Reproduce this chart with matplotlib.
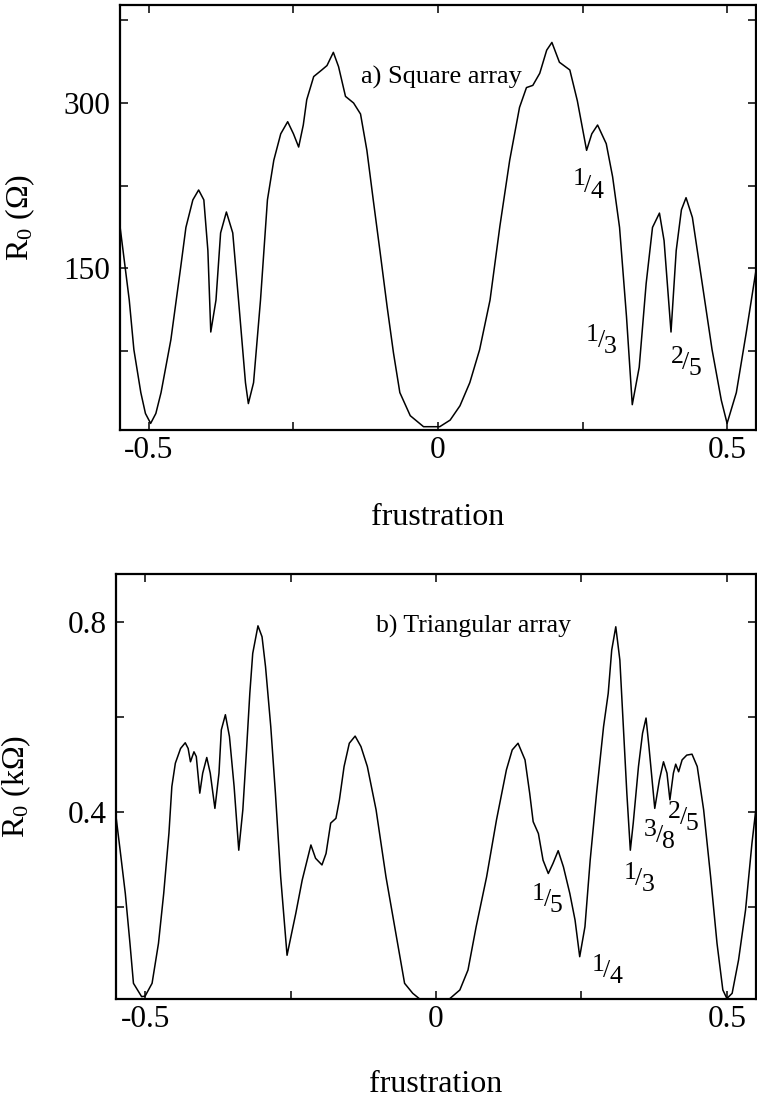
import matplotlib
matplotlib.use("Agg")
import matplotlib.pyplot as plt

plt.rcParams['font.family'] = ['Liberation Serif', 'DejaVu Serif']
plt.rcParams['mathtext.fontset'] = 'custom'
plt.rcParams['mathtext.rm'] = 'Liberation Serif'
plt.rcParams['mathtext.it'] = 'Liberation Serif:italic'

# ---------------- data: (a) square array ----------------
sq_f = [-0.550, -0.534, -0.526, -0.514, -0.506, -0.497, -0.488, -0.479, -0.462, -0.445,
        -0.436, -0.424, -0.414, -0.405, -0.398, -0.393, -0.384, -0.376, -0.366, -0.355,
        -0.345, -0.333, -0.328, -0.319, -0.307, -0.295, -0.284, -0.272, -0.260, -0.250,
        -0.241, -0.233, -0.227, -0.215, -0.201, -0.192, -0.181, -0.172, -0.160, -0.146,
        -0.134, -0.123, -0.112, -0.100, -0.088, -0.077, -0.066, -0.048, -0.025, 0.003,
        0.021, 0.038, 0.055, 0.072, 0.090, 0.107, 0.124, 0.141, 0.153, 0.164,
        0.176, 0.188, 0.197, 0.210, 0.228, 0.241, 0.257, 0.266, 0.276, 0.291,
        0.302, 0.314, 0.326, 0.336, 0.348, 0.360, 0.371, 0.383, 0.391, 0.403,
        0.412, 0.421, 0.429, 0.440, 0.457, 0.474, 0.490, 0.500, 0.516, 0.533, 0.550]
sq_R = [188, 121, 76, 37, 18, 9, 18, 37, 85, 151,
        187, 212, 221, 212, 166, 92, 121, 182, 201, 182,
        121, 46, 27, 46, 121, 212, 248, 272, 283, 272,
        260, 280, 303, 324, 330, 334, 346, 333, 306, 300,
        290, 257, 212, 164, 115, 73, 37, 16, 6, 6,
        12, 25, 46, 76, 121, 188, 248, 296, 314, 316,
        327, 348, 355, 337, 330, 302, 257, 272, 280, 263,
        233, 187, 106, 26, 60, 136, 187, 200, 175, 92,
        166, 203, 214, 196, 136, 76, 30, 9, 37, 91, 148]

# ---------------- data: (b) triangular array ----------------
tr_f = [-0.551, -0.543, -0.534, -0.526, -0.520, -0.506, -0.500, -0.488, -0.477, -0.468,
        -0.459, -0.454, -0.448, -0.439, -0.431, -0.426, -0.422, -0.416, -0.412, -0.406,
        -0.401, -0.394, -0.388, -0.380, -0.373, -0.369, -0.362, -0.355, -0.347, -0.339,
        -0.332, -0.326, -0.320, -0.315, -0.306, -0.299, -0.293, -0.284, -0.276, -0.267,
        -0.256, -0.247, -0.241, -0.230, -0.215, -0.207, -0.196, -0.189, -0.181, -0.172,
        -0.166, -0.158, -0.149, -0.139, -0.129, -0.118, -0.103, -0.086, -0.069, -0.054,
        -0.040, -0.028, 0.000, 0.023, 0.041, 0.055, 0.069, 0.087, 0.104, 0.121,
        0.131, 0.141, 0.153, 0.161, 0.167, 0.176, 0.184, 0.193, 0.201, 0.210,
        0.219, 0.230, 0.239, 0.247, 0.256, 0.265, 0.276, 0.288, 0.296, 0.302,
        0.309, 0.316, 0.322, 0.328, 0.334, 0.339, 0.348, 0.355, 0.361, 0.366,
        0.376, 0.384, 0.391, 0.397, 0.402, 0.408, 0.412, 0.417, 0.423, 0.431,
        0.440, 0.449, 0.460, 0.472, 0.483, 0.493, 0.500, 0.509, 0.520, 0.532,
        0.543, 0.551]
tr_R = [0.400, 0.320, 0.228, 0.123, 0.039, 0.011, 0.012, 0.039, 0.123, 0.228,
        0.355, 0.453, 0.502, 0.533, 0.545, 0.533, 0.505, 0.526, 0.516, 0.439,
        0.481, 0.514, 0.481, 0.407, 0.481, 0.572, 0.604, 0.558, 0.453, 0.319,
        0.404, 0.523, 0.649, 0.733, 0.791, 0.768, 0.705, 0.579, 0.439, 0.263,
        0.098, 0.151, 0.186, 0.256, 0.330, 0.302, 0.288, 0.312, 0.376, 0.386,
        0.425, 0.495, 0.544, 0.559, 0.537, 0.495, 0.404, 0.263, 0.144, 0.039,
        0.018, 0.006, 0.006, 0.006, 0.025, 0.067, 0.158, 0.263, 0.383, 0.488,
        0.530, 0.544, 0.509, 0.439, 0.379, 0.354, 0.298, 0.270, 0.291, 0.318,
        0.284, 0.228, 0.172, 0.095, 0.158, 0.298, 0.439, 0.579, 0.649, 0.740,
        0.789, 0.719, 0.579, 0.439, 0.319, 0.376, 0.495, 0.565, 0.597, 0.537,
        0.407, 0.467, 0.505, 0.481, 0.425, 0.481, 0.500, 0.484, 0.509, 0.519,
        0.521, 0.495, 0.404, 0.263, 0.123, 0.025, 0.007, 0.018, 0.088, 0.193,
        0.333, 0.418]

x_ticks = [-0.5, -0.25, 0, 0.25, 0.5]
x_ticklabels = ['-0.5', '', '0', '', '0.5']
sq_yticks = [75, 150, 225, 300, 375]
sq_yticklabels = ['', '150', '', '300', '']
tr_yticks = [0.2, 0.4, 0.6, 0.8]
tr_yticklabels = ['', '0.4', '', '0.8']

sq_fracs = [('1', '4', 0.259, 225), ('1', '3', 0.283, 84), ('2', '5', 0.429, 64)]
tr_fracs = [('1', '5', 0.191, 0.214), ('1', '4', 0.294, 0.065), ('1', '3', 0.349, 0.258),
            ('3', '8', 0.384, 0.349), ('2', '5', 0.425, 0.387)]

W, H = 757, 1105
fig = plt.figure(figsize=(W / 100, H / 100), dpi=100)

ax1 = fig.add_axes([120 / W, 1 - 430 / H, 636 / W, 425 / H])
ax2 = fig.add_axes([116 / W, 1 - 999 / H, 640 / W, 425 / H])


def style(ax, yticks, yticklabels, ylabel):
    ax.set_xlim(-0.55, 0.55)
    ax.set_xticks(x_ticks)
    ax.set_xticklabels(x_ticklabels)
    ax.set_yticks(yticks)
    ax.set_yticklabels(yticklabels)
    ax.tick_params(direction='in', length=6, width=1.1, top=True, right=True,
                   labelsize=22.5, colors='black')
    ax.tick_params(axis='x', pad=4)
    ax.tick_params(axis='y', pad=7)
    for s in ax.spines.values():
        s.set_linewidth(1.6)
    ax.set_xlabel('frustration', fontsize=23)
    ax.set_ylabel(ylabel, fontsize=23)


def frac(ax, num, den, x, y, size=18.5):
    kw = dict(fontsize=size, ha='center', va='center', textcoords='offset points')
    ax.annotate(num, (x, y), xytext=(-6.5, 4.5), **kw)
    ax.annotate('/', (x, y), xytext=(0, 0), **kw)
    ax.annotate(den, (x, y), xytext=(6.5, -4.5), **kw)


ax1.plot(sq_f, sq_R, color='black', lw=1.1)
style(ax1, sq_yticks, sq_yticklabels, r'R$_0$ ($\Omega$)')
ax1.set_ylim(3, 389)
ax1.yaxis.set_label_coords(-0.130, 0.5)
ax1.xaxis.set_label_coords(0.5, -0.172)
ax1.text(-0.134, 323, 'a) Square array', fontsize=19, ha='left', va='center')
for n, d, x, y in sq_fracs:
    frac(ax1, n, d, x, y)

ax2.plot(tr_f, tr_R, color='black', lw=1.1)
style(ax2, tr_yticks, tr_yticklabels, r'R$_0$ (k$\Omega$)')
ax2.set_ylim(0.006, 0.9)
ax2.yaxis.set_label_coords(-0.130, 0.5)
ax2.xaxis.set_label_coords(0.5, -0.166)
ax2.text(-0.103, 0.789, 'b) Triangular array', fontsize=18.5, ha='left', va='center')
for n, d, x, y in tr_fracs:
    frac(ax2, n, d, x, y)

fig.savefig('out.png', dpi=100)
